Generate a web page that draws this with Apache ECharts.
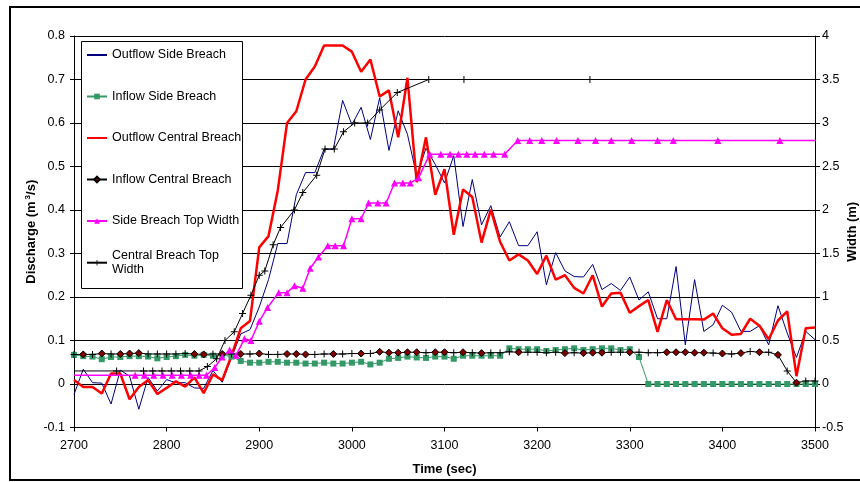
<!DOCTYPE html>
<html>
<head>
<meta charset="utf-8">
<script src="https://cdn.jsdelivr.net/npm/echarts@6/dist/echarts.min.js"></script>
<style>
  html, body { margin: 0; padding: 0; background: #fff; }
  #chart { width: 860px; height: 482px; }
</style>
</head>
<body>
<div id="chart"></div>
<script>
// Sampling times (s) of the discharge records
const times = [
  2700, 2710, 2720, 2730, 2740, 2750, 2760, 2770, 2780, 2790,
  2800, 2810, 2820, 2830, 2840, 2850, 2860, 2870, 2880, 2890,
  2900, 2910, 2920, 2930, 2940, 2950, 2960, 2970, 2980, 2990,
  3000, 3010, 3020, 3030, 3040, 3050, 3060, 3070, 3080, 3090,
  3100, 3110, 3120, 3130, 3140, 3150, 3160, 3170, 3180, 3190,
  3200, 3210, 3220, 3230, 3240, 3250, 3260, 3270, 3280, 3290,
  3300, 3310, 3320, 3330, 3340, 3350, 3360, 3370, 3380, 3390,
  3400, 3410, 3420, 3430, 3440, 3450, 3460, 3470, 3480, 3490,
  3500
];

// Discharge (m3/s)
const outflowSide = [
  -0.024, 0.034, 0.003, 0.002, -0.046, 0.032, 0.018, -0.058, 0.015, -0.016,
  0.010, 0.003, 0.003, -0.009, -0.010, 0.031, 0.004, 0.060, 0.115, 0.125,
  0.177, 0.240, 0.323, 0.323, 0.435, 0.486, 0.486, 0.540, 0.540, 0.652,
  0.596, 0.636, 0.562, 0.658, 0.537, 0.628, 0.574, 0.478, 0.542, 0.505,
  0.462, 0.525, 0.362, 0.470, 0.366, 0.410, 0.338, 0.373, 0.318, 0.318,
  0.350, 0.228, 0.302, 0.260, 0.247, 0.246, 0.275, 0.217, 0.231, 0.215,
  0.246, 0.193, 0.212, 0.150, 0.150, 0.270, 0.090, 0.240, 0.121, 0.136,
  0.181, 0.165, 0.121, 0.121, 0.134, 0.090, 0.180, 0.117, 0.061, 0.121,
  0.102
];

const inflowSide = [
  0.067, 0.064, 0.063, 0.057, 0.062, 0.062, 0.064, 0.064, 0.063, 0.059,
  0.062, 0.064, 0.067, 0.065, 0.067, 0.065, 0.067, 0.063, 0.053, 0.049,
  0.049, 0.051, 0.051, 0.049, 0.049, 0.047, 0.047, 0.049, 0.047, 0.047,
  0.049, 0.051, 0.045, 0.049, 0.058, 0.060, 0.063, 0.061, 0.060, 0.063,
  0.063, 0.058, 0.065, 0.065, 0.065, 0.065, 0.065, 0.082, 0.080, 0.080,
  0.080, 0.076, 0.078, 0.080, 0.082, 0.078, 0.080, 0.082, 0.082, 0.078,
  0.080, 0.062, 0, 0, 0, 0, 0, 0, 0, 0,
  0, 0, 0, 0, 0, 0, 0, 0, 0, 0,
  0
];

const outflowCentral = [
  0.009, -0.007, -0.007, -0.022, 0.024, 0.024, -0.035, -0.007, 0.009, -0.023,
  -0.009, 0.006, -0.006, 0.015, -0.021, 0.022, 0.009, 0.065, 0.128, 0.145,
  0.314, 0.340, 0.445, 0.600, 0.627, 0.700, 0.730, 0.778, 0.778, 0.778,
  0.764, 0.718, 0.746, 0.661, 0.675, 0.567, 0.704, 0.464, 0.567, 0.435,
  0.494, 0.343, 0.447, 0.430, 0.325, 0.401, 0.327, 0.284, 0.298, 0.284,
  0.253, 0.295, 0.240, 0.250, 0.221, 0.208, 0.250, 0.178, 0.208, 0.210,
  0.164, 0.179, 0.193, 0.120, 0.193, 0.149, 0.149, 0.149, 0.148, 0.162,
  0.128, 0.113, 0.115, 0.150, 0.134, 0.103, 0.146, 0.167, 0.018, 0.128,
  0.130
];

const inflowCentral = [
  0.068, 0.068, 0.068, 0.070, 0.069, 0.069, 0.070, 0.071, 0.069, 0.069,
  0.069, 0.069, 0.070, 0.069, 0.068, 0.069, 0.069, 0.069, 0.069, 0.069,
  0.070, 0.068, 0.068, 0.069, 0.069, 0.068, 0.068, 0.069, 0.069, 0.069,
  0.070, 0.070, 0.070, 0.074, 0.072, 0.072, 0.073, 0.073, 0.072, 0.073,
  0.073, 0.072, 0.073, 0.072, 0.071, 0.072, 0.072, 0.074, 0.073, 0.073,
  0.073, 0.072, 0.073, 0.071, 0.072, 0.071, 0.072, 0.072, 0.073, 0.073,
  0.073, 0.073, 0.072, 0.072, 0.073, 0.073, 0.073, 0.072, 0.072, 0.071,
  0.070, 0.069, 0.071, 0.075, 0.073, 0.073, 0.067, 0.030, 0.003, 0.007,
  0.007
];
// Marker used at each inflow-central record: d = diamond, p = plus
const inflowCentralMarks = (
  'pdpdpdddpp' + 'pppddpdpdp' + 'dppdddppdp' + 'pdpdddddpd' +
  'dpdpdpppdp' + 'pppdpdddpp' + 'dpppdddddp' + 'dpdpdpdpdp' + 'p'
).split('');

// Breach top widths (m), right axis
const sideWidthTimes = [
  2700, 2766, 2776, 2786, 2796, 2806, 2816, 2826, 2835, 2843,
  2852, 2860, 2868, 2875, 2884, 2891, 2900, 2909, 2921, 2930,
  2938, 2947, 2955, 2964, 2974, 2982, 2991, 3000, 3010, 3018,
  3028, 3037, 3046, 3055, 3063, 3072, 3084, 3096, 3106, 3115,
  3124, 3133, 3143, 3153, 3165, 3179, 3192, 3205, 3221, 3244,
  3263, 3280, 3302, 3330, 3347, 3395, 3462, 3500
];
const sideWidth = [
  0.10, 0.10, 0.10, 0.10, 0.10, 0.10, 0.10, 0.10, 0.10, 0.10,
  0.19, 0.31, 0.39, 0.33, 0.52, 0.50, 0.72, 0.88, 1.05, 1.05,
  1.13, 1.10, 1.33, 1.46, 1.59, 1.59, 1.59, 1.90, 1.90, 2.08,
  2.08, 2.08, 2.31, 2.31, 2.31, 2.37, 2.64, 2.64, 2.64, 2.64,
  2.64, 2.64, 2.64, 2.64, 2.64, 2.80, 2.80, 2.80, 2.80, 2.80,
  2.80, 2.80, 2.80, 2.80, 2.80, 2.80, 2.80, 2.80
];

const centralWidthTimes = [
  2700, 2746, 2775, 2785, 2795, 2805, 2815, 2825, 2835, 2844,
  2854, 2863, 2873, 2882, 2891, 2900, 2906, 2915, 2923, 2938,
  2947, 2962, 2971, 2981, 2991, 3003, 3017, 3030, 3049, 3083,
  3121, 3257
];
const centralWidth = [
  0.15, 0.15, 0.15, 0.15, 0.15, 0.15, 0.15, 0.15, 0.15, 0.20,
  0.29, 0.50, 0.60, 0.81, 1.02, 1.25, 1.30, 1.60, 1.80, 2.00,
  2.20, 2.40, 2.70, 2.70, 2.90, 3.00, 3.00, 3.15, 3.35, 3.50,
  3.50, 3.50
];

const seriesNames = [
  'Outflow Side Breach',
  'Inflow Side Breach',
  'Outflow Central Breach',
  'Inflow Central Breach',
  'Side Breach Top Width',
  'Central Breach Top Width'
];

const FONT = '"Liberation Sans", Arial, sans-serif';
const PLUS = 'path://M3,0h1v3h3v1h-3v3h-1v-3h-3v-1h3z';

const pairs = (xs, ys) => xs.map((x, i) => [x, ys[i]]);

// Width lines start and end at the plot edges without a marker there
const edgeless = (xs, ys, open) => pairs(xs, ys).map((p, i) => {
  const atEdge = (i === 0) || (open && i === xs.length - 1);
  return atEdge ? { value: p, symbol: 'none' } : p;
});

const inflowCentralData = pairs(times, inflowCentral).map((p, i) =>
  inflowCentralMarks[i] === 'p'
    ? { value: p, symbol: PLUS, itemStyle: { color: '#000', borderWidth: 0 } }
    : p
);

const chart = echarts.init(document.getElementById('chart'), null, { renderer: 'canvas' });

const legendText = { fontFamily: FONT, fontSize: 12.5, color: '#000', lineHeight: 14 };
// Plain line entries (no marker) in the key
const lineOnly = name => ({ name, itemStyle: { opacity: 0 } });

chart.setOption({
  animation: false,
  backgroundColor: '#fff',
  textStyle: { fontFamily: FONT },
  grid: { left: 74, right: 45, top: 36, bottom: 54.5, containLabel: false, outerBoundsMode: 'none' },
  graphic: [
    { type: 'rect', z: 0, silent: true,
      shape: { x: 10, y: 7, width: 870, height: 473 },
      style: { fill: null, stroke: '#000', lineWidth: 2 } },
    { type: 'rect', z: 3, silent: true,
      shape: { x: 81.5, y: 41.5, width: 161, height: 247 },
      style: { fill: '#fff', stroke: '#000', lineWidth: 1 } }
  ],
  legend: [
    {
      data: [
        lineOnly(seriesNames[0]),
        seriesNames[1],
        lineOnly(seriesNames[2]),
        seriesNames[3],
        seriesNames[4]
      ],
      orient: 'vertical', left: 86, top: 48, padding: 0,
      itemGap: 27.5, itemWidth: 20, itemHeight: 7, z: 5,
      textStyle: legendText
    },
    {
      data: [{ name: seriesNames[5], textStyle: { padding: [14, 0, 0, 0] } }],
      orient: 'vertical', left: 86, top: 241.7, padding: 0,
      itemWidth: 20, itemHeight: 7, z: 5,
      textStyle: Object.assign({ width: 130, overflow: 'break' }, legendText)
    }
  ],
  xAxis: {
    type: 'value', min: 2700, max: 3500, interval: 100,
    name: 'Time (sec)', nameLocation: 'middle', nameGap: 35, nameMoveOverlap: false,
    nameTextStyle: { fontFamily: FONT, fontSize: 13, fontWeight: 'bold', color: '#000' },
    axisLine: { onZero: false, lineStyle: { color: '#000', width: 1 } },
    axisTick: { show: true, length: 4, lineStyle: { color: '#000' } },
    axisLabel: { fontFamily: FONT, fontSize: 12.5, color: '#000', margin: 12,
      formatter: v => String(v) },
    splitLine: { show: false }
  },
  yAxis: [
    {
      type: 'value', min: -0.1, max: 0.8, interval: 0.1, position: 'left',
      name: 'Discharge (m{sup|3}/s)', nameLocation: 'middle', nameGap: 35, nameRotate: 90,
      nameMoveOverlap: false,
      nameTextStyle: { fontFamily: FONT, fontSize: 13, fontWeight: 'bold', color: '#000',
        rich: { sup: { fontFamily: FONT, fontSize: 8, fontWeight: 'bold', color: '#000',
          padding: [0, 0, 7, 2] } } },
      axisLine: { show: true, onZero: false, lineStyle: { color: '#000', width: 1 } },
      axisTick: { show: true, length: 4, lineStyle: { color: '#000' } },
      axisLabel: { fontFamily: FONT, fontSize: 12.5, color: '#000', margin: 9,
        formatter: v => String(parseFloat(v.toFixed(1))) },
      splitLine: { show: true, lineStyle: { color: '#000', width: 1 } }
    },
    {
      type: 'value', min: -0.5, max: 4, interval: 0.5, position: 'right',
      name: 'Width (m)', nameLocation: 'middle', nameGap: 31, nameRotate: 90,
      nameMoveOverlap: false,
      nameTextStyle: { fontFamily: FONT, fontSize: 13, fontWeight: 'bold', color: '#000' },
      axisLine: { show: true, onZero: false, lineStyle: { color: '#000', width: 1 } },
      axisTick: { show: true, length: 5, lineStyle: { color: '#000' } },
      axisLabel: { fontFamily: FONT, fontSize: 12.5, color: '#000', margin: 7,
        formatter: v => String(parseFloat(v.toFixed(1))) },
      splitLine: { show: false }
    }
  ],
  series: [
    {
      name: seriesNames[0], type: 'line', yAxisIndex: 0,
      data: pairs(times, outflowSide), symbol: 'none',
      itemStyle: { color: '#000080' },
      lineStyle: { color: '#000080', width: 1 }
    },
    {
      name: seriesNames[1], type: 'line', yAxisIndex: 0,
      data: pairs(times, inflowSide), symbol: 'rect', symbolSize: 6,
      itemStyle: { color: '#339966' },
      lineStyle: { color: '#339966', width: 1 }
    },
    {
      name: seriesNames[2], type: 'line', yAxisIndex: 0,
      data: pairs(times, outflowCentral), symbol: 'none',
      itemStyle: { color: '#ff0000' },
      lineStyle: { color: '#ff0000', width: 2.5 }
    },
    {
      name: seriesNames[3], type: 'line', yAxisIndex: 0,
      data: inflowCentralData, symbol: 'diamond', symbolSize: 7,
      itemStyle: { color: '#800000', borderColor: '#000', borderWidth: 1 },
      lineStyle: { color: '#000', width: 1 }
    },
    {
      name: seriesNames[4], type: 'line', yAxisIndex: 1,
      data: edgeless(sideWidthTimes, sideWidth, true), symbol: 'triangle', symbolSize: 7,
      itemStyle: { color: '#ff00ff' },
      lineStyle: { color: '#ff00ff', width: 1.5 }
    },
    {
      name: seriesNames[5], type: 'line', yAxisIndex: 1,
      data: edgeless(centralWidthTimes, centralWidth, false), symbol: PLUS, symbolSize: 7,
      itemStyle: { color: '#000' },
      lineStyle: { color: '#000', width: 1 }
    }
  ]
});
</script>
</body>
</html>
